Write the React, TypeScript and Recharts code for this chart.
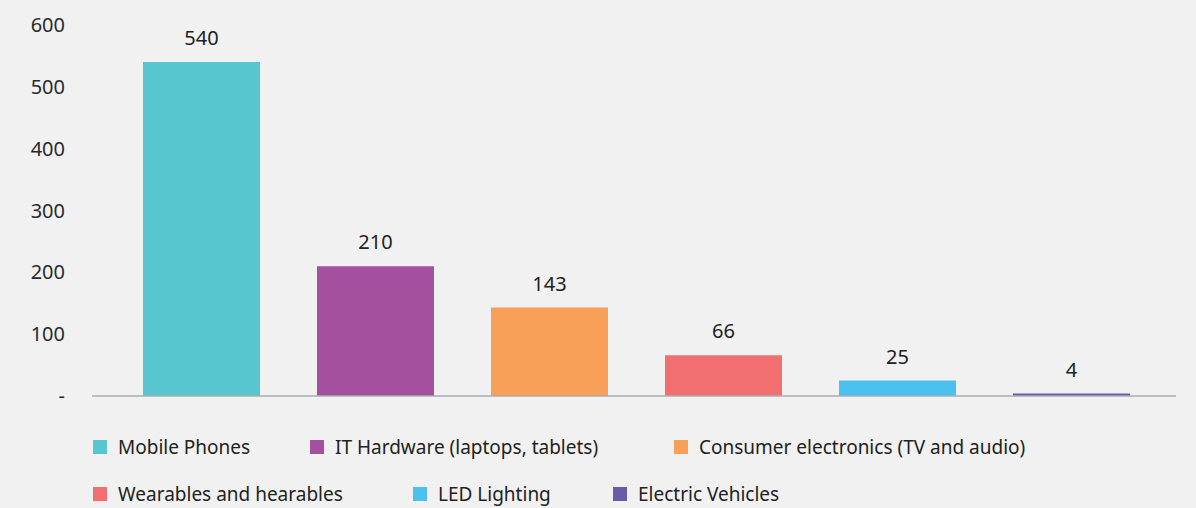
import { BarChart, Bar, Cell, XAxis, YAxis, LabelList, Legend, ReferenceLine } from 'recharts';

const categories = [
  'Mobile Phones',
  'IT Hardware (laptops, tablets)',
  'Consumer electronics (TV and audio)',
  'Wearables and hearables',
  'LED Lighting',
  'Electric Vehicles',
];
const values = [540, 210, 143, 66, 25, 4];
const yTicks = [0, 100, 200, 300, 400, 500, 600];

const COLORS = ['#57c6d1', '#a4509e', '#f9a058', '#f16f70', '#4cc1ef', '#6b5aa8'];
const FONT = '"Noto Sans", sans-serif';

// legend rows as laid out in the original (item index, width)
const legendRows = [
  [
    [0, 217],
    [1, 364],
    [2, 400],
  ],
  [
    [3, 320],
    [4, 200],
    [5, 300],
  ],
];

const data = categories.map((name, i) => ({ name, value: values[i] }));

function LegendContent() {
  return (
    <div style={{ height: 112, paddingTop: 40, paddingLeft: 93, boxSizing: 'border-box', fontFamily: FONT }}>
      {legendRows.map((row, r) => (
        <div key={r} style={{ display: 'flex', height: 47, alignItems: 'flex-start' }}>
          {row.map(([idx, w]) => (
            <div key={idx} style={{ width: w, display: 'flex', alignItems: 'center', height: 22 }}>
              <span style={{ width: 14, height: 14, background: COLORS[idx], marginRight: 11, flexShrink: 0 }} />
              <span style={{ fontSize: 19, color: '#222', whiteSpace: 'nowrap' }}>{categories[idx]}</span>
            </div>
          ))}
        </div>
      ))}
    </div>
  );
}

export default function App() {
  return (
    <div style={{ width: 1196, height: 508, background: '#f1f1f1' }}>
      <style>{'body{margin:0}'}</style>
      <BarChart width={1196} height={508} data={data} margin={{ top: 25, right: 20, bottom: 0, left: 0 }}>
        <XAxis
          dataKey="name"
          tick={false}
          tickLine={false}
          axisLine={false}
          height={0}
          padding={{ left: 22, right: 18 }}
        />
        <YAxis
          width={92}
          domain={[0, 600]}
          ticks={yTicks}
          axisLine={false}
          tickLine={false}
          tickMargin={21}
          tickFormatter={(v) => (v === 0 ? '-' : String(v))}
          tick={{ fill: '#2b2b2b', fontSize: 20, fontFamily: FONT }}
        />
        <Legend verticalAlign="bottom" content={LegendContent} />
        <ReferenceLine y={0} stroke="#a8acb3" strokeWidth={1.5} />
        <Bar dataKey="value" barSize={117} isAnimationActive={false}>
          {data.map((_, i) => (
            <Cell key={i} fill={COLORS[i]} />
          ))}
          <LabelList dataKey="value" position="top" offset={17} fill="#222" fontSize={20} fontFamily={FONT} />
        </Bar>
      </BarChart>
    </div>
  );
}
